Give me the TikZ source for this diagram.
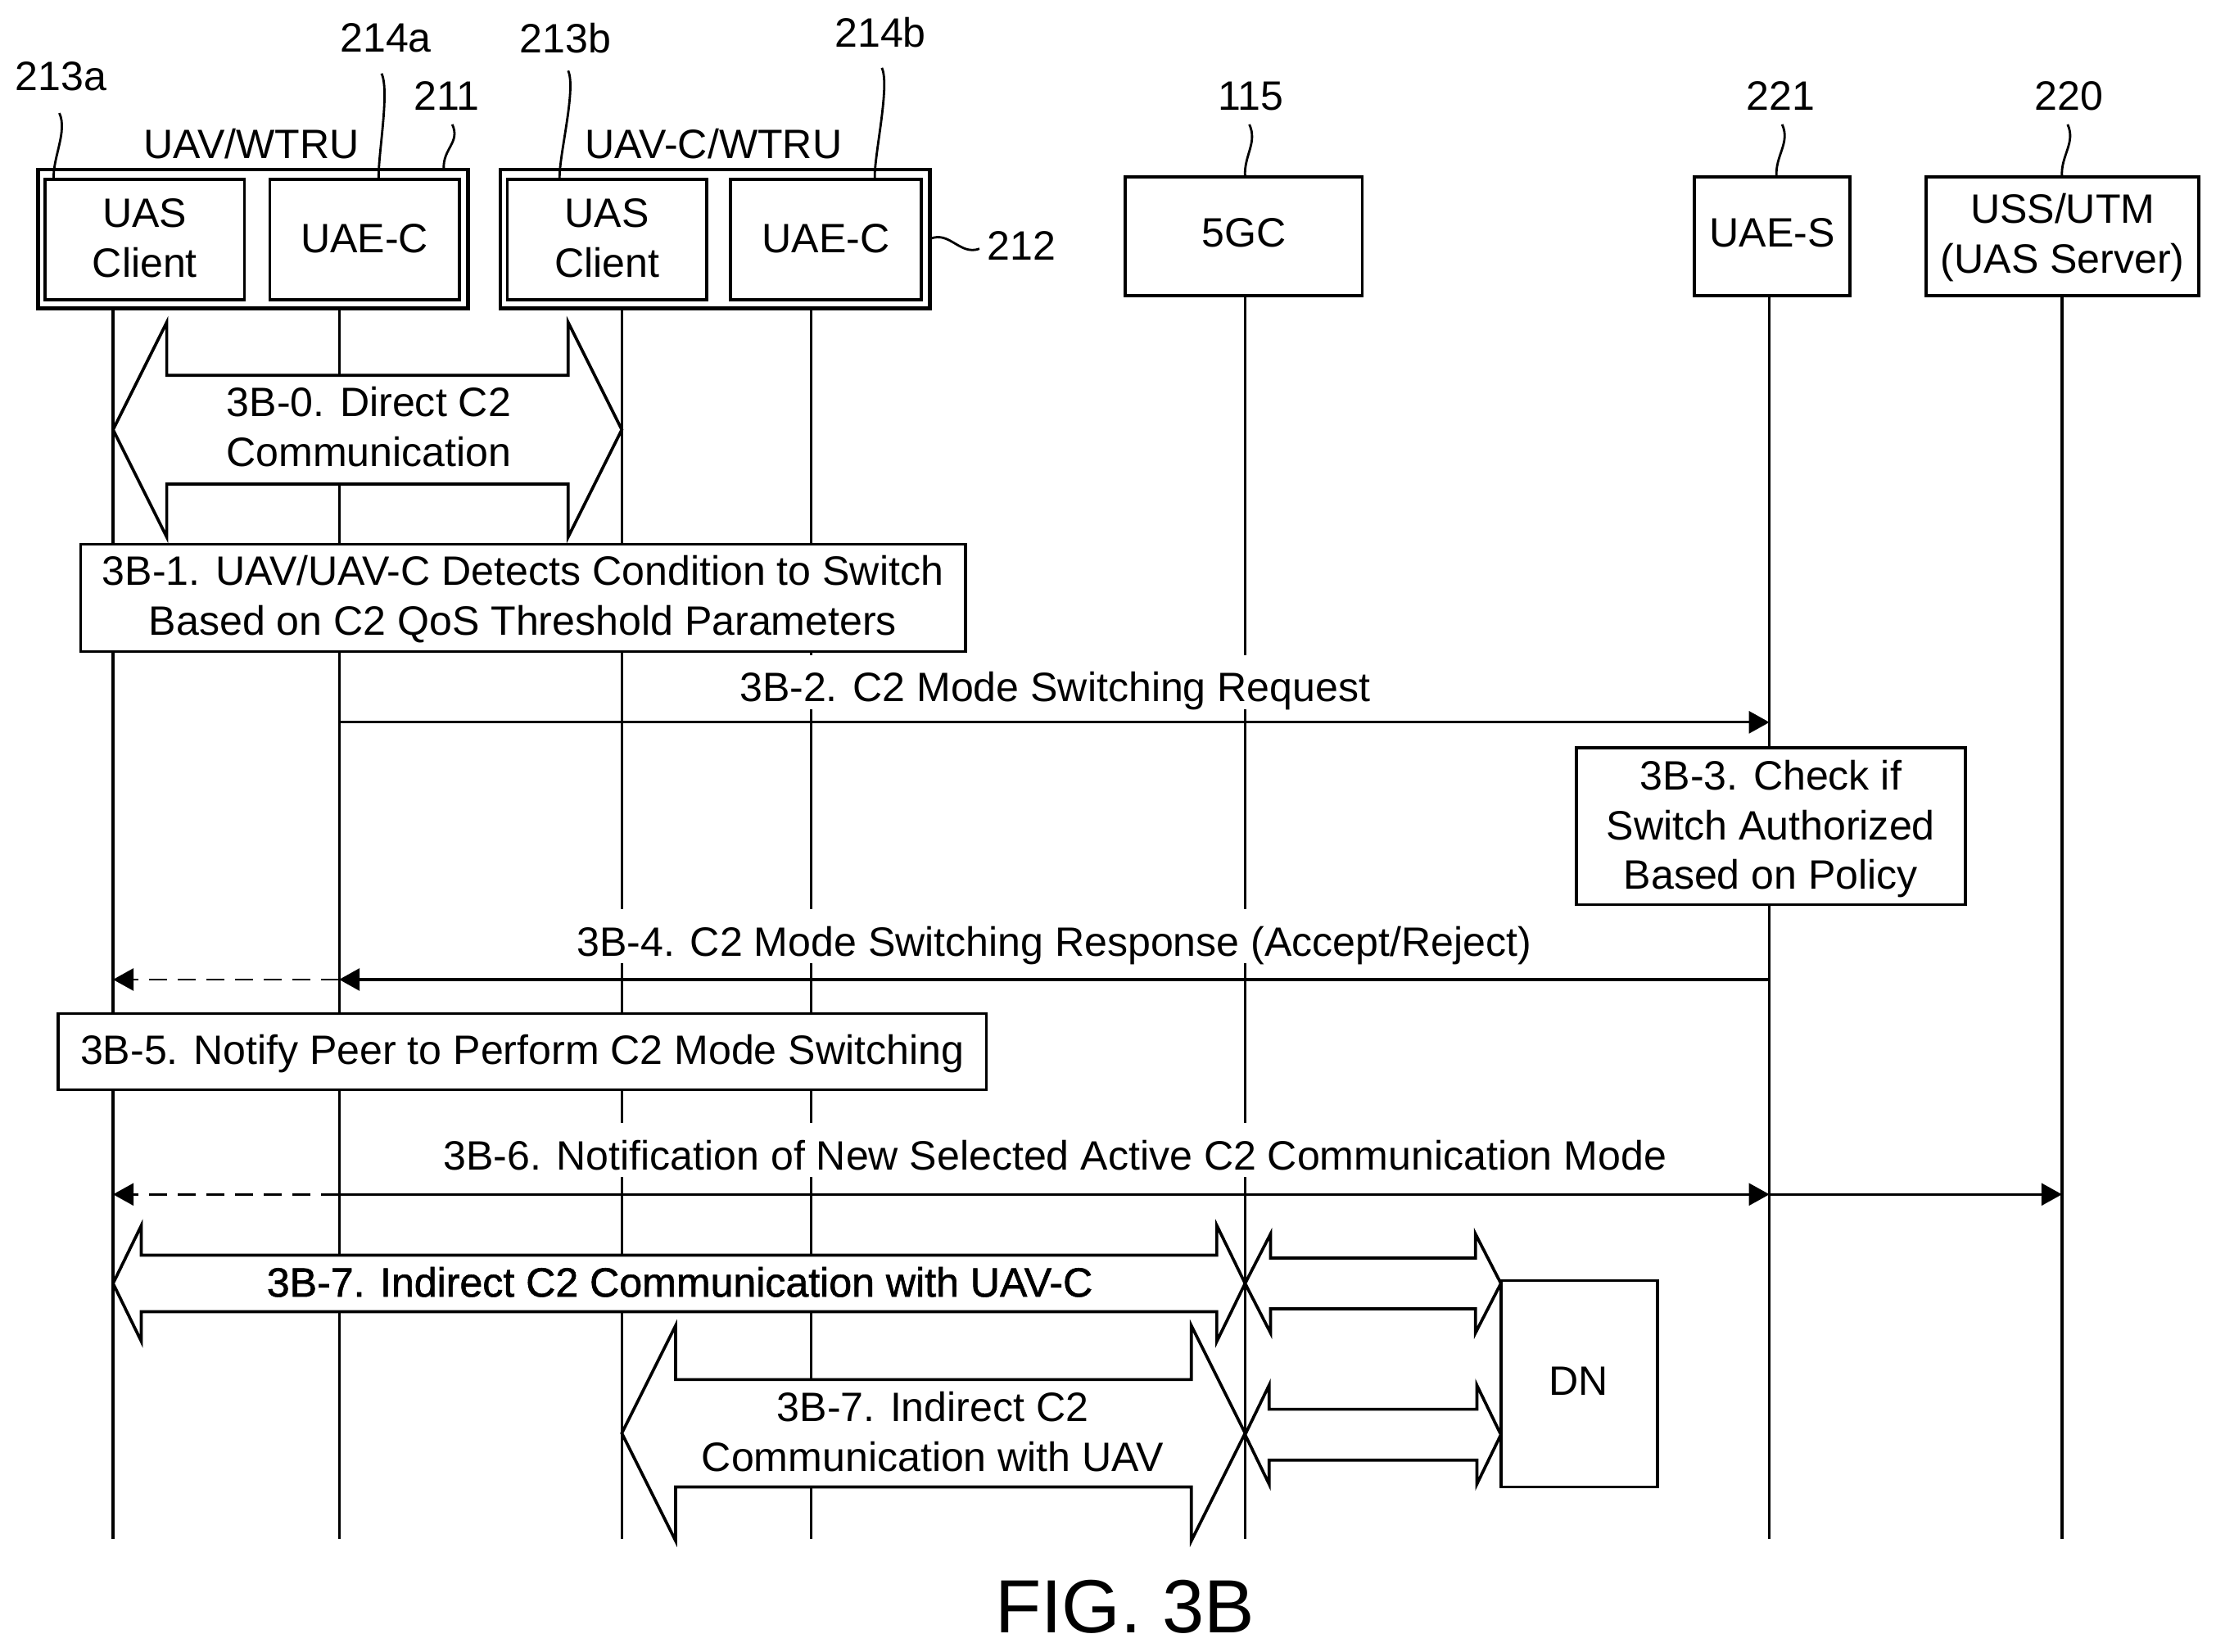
\documentclass[tikz,border=0pt]{standalone}
\usepackage{fontspec}
\setmainfont{Liberation Sans}
\newfontfamily\heavyfont[FakeBold=1.2]{Liberation Sans}
\usetikzlibrary{arrows.meta}
\def\u{0.017258cm}
\tikzset{
  size/.style 2 args={minimum width=#1*\u,minimum height=#2*\u},
  box/.style={draw,line width=1.05pt,fill=white,inner sep=0pt,outer sep=0pt,align=center},
  boxthick/.style={box,line width=1.3pt},
  raised/.style={text height=0.41cm,text depth=#1},
  txt/.style={inner sep=0pt,align=center},
  msgtxt/.style={fill=white,inner xsep=0pt,inner ysep=0.05cm,text height=0.52cm,text depth=0.04cm},
  life/.style={line width=0.95pt},
  lead/.style={line width=0.8pt},
  msg/.style={line width=0.95pt,-{Triangle[length=0.25cm,width=0.27cm]}},
  msgthin/.style={msg,line width=0.8pt},
  msgd/.style={msg,line width=0.8pt,dash pattern=on 0.22cm off 0.13cm},
  block/.style={draw,fill=white,line width=1.05pt,line join=miter}
}
% x1 x2 yc head half-head half-shaft
\newcommand{\blockarrow}[6]{
 \draw[block] (#1,#3)--({#1+#4},{#3-#5})--({#1+#4},{#3-#6})--({#2-#4},{#3-#6})--({#2-#4},{#3-#5})
  --(#2,#3)--({#2-#4},{#3+#5})--({#2-#4},{#3+#6})--({#1+#4},{#3+#6})--({#1+#4},{#3+#5})--cycle;
}
\newcommand{\leader}[2]{\draw[lead] (#1) .. controls +(6,13) and +(-1,-15) .. (#2);}
\begin{document}
\begin{tikzpicture}[x=\u,y=-\u,font=\fontsize{14.25}{17.2}\selectfont]
\path[use as bounding box,fill=white] (0,0) rectangle (1568,1168.7);
% lifelines
\coordinate (la) at (80,218);
\coordinate (lb) at (240,218);
\coordinate (lc) at (440,218);
\coordinate (ld) at (574,218);
\coordinate (le) at (881,209);
\coordinate (lf) at (1252,209);
\coordinate (lg) at (1459,209);
\coordinate (bottom) at (0,1089);
\foreach \n in {la,lb,lc,ld,le,lf,lg}
 \draw[life] (\n) -- (\n |- bottom);
% header boxes
\node[boxthick,size={304}{98}] (uav) at (179,169) {};
\node[boxthick,size={304}{98}] (uavc) at (506,169) {};
\node[box,size={141}{85}] (clienta) at (102.5,169.5) {};
\node[txt] (clientat) at (102.5,168.5) {UAS\\Client};
\node[box,size={134}{85},raised=0.1cm] (uaea) at (258,169.5) {UAE-C};
\node[box,size={141}{85}] (clientb) at (429.5,169.5) {};
\node[txt] (clientbt) at (429.5,168.5) {UAS\\Client};
\node[box,size={135}{85},raised=0.1cm] (uaeb) at (584.5,169.5) {UAE-C};
\node[box,size={168}{84},raised=0.14cm] (fivegc) at (880,167) {5GC};
\node[box,size={110}{84},raised=0.14cm] (uaes) at (1254,167) {UAE-S};
\node[box,size={193}{84}] (uss) at (1459.5,167) {};
\node[txt] (usst) at (1459.5,168) {USS/UTM\\(UAS Server)};
\node[txt] (titlea) at (178,102) {UAV/WTRU};
\node[txt] (titleb) at (505,102) {UAV-C/WTRU};
% reference numerals
\node[txt] (n213a) at (43,54) {213a};
\node[txt] (n214a) at (273,27) {214a};
\node[txt] (n211) at (316,68) {211};
\node[txt] (n213b) at (400,27) {213b};
\node[txt] (n214b) at (623,23) {214b};
\node[txt] (n212) at (723,174) {212};
\node[txt] (n115) at (885,68) {115};
\node[txt] (n221) at (1260,68) {221};
\node[txt] (n220) at (1464,68) {220};
\coordinate (s213a) at (42,80); \coordinate (e213a) at (38,127);
\coordinate (s214a) at (270,52); \coordinate (e214a) at (268,127);
\coordinate (s211) at (320,88); \coordinate (e211) at (314,120);
\coordinate (s213b) at (402,50); \coordinate (e213b) at (396,127);
\coordinate (s214b) at (624,48); \coordinate (e214b) at (619,127);
\coordinate (s115) at (884,88); \coordinate (e115) at (881,125);
\coordinate (s221) at (1261,88); \coordinate (e221) at (1257,125);
\coordinate (s220) at (1463,88); \coordinate (e220) at (1459,125);
\coordinate (e212) at (693,176);
\leader{s213a}{e213a}
\leader{s214a}{e214a}
\leader{s211}{e211}
\leader{s213b}{e213b}
\leader{s214b}{e214b}
\leader{s115}{e115}
\leader{s221}{e221}
\leader{s220}{e220}
\draw[lead] (uavc.east) .. controls +(14,-6) and +(-14,5) .. (e212);
% step 3B-0
\blockarrow{80}{440}{304}{38}{76}{38.5}
\node[txt] (s0) at (261,302) {3B-0. Direct C2\\Communication};
% step 3B-1
\node[box,size={626}{76}] (s1) at (370,423) {};
\node[txt] (s1t) at (370,424) {3B-1. UAV/UAV-C Detects Condition to Switch\\Based on C2 QoS Threshold Parameters};
% step 3B-2
\coordinate (rowb) at (0,511);
\draw[msgthin] (lb |- rowb) -- (lf |- rowb);
\node[msgtxt] (s2) at (746.5,482.5) {3B-2. C2 Mode Switching Request};
% step 3B-3
\node[box,size={275}{111}] (s3) at (1253,584.5) {};
\node[txt] (s3t) at (1253,586.5) {3B-3. Check if\\Switch Authorized\\Based on Policy};
% step 3B-4
\coordinate (rowd) at (0,693);
\draw[msg] (lf |- rowd) -- (lb |- rowd);
\draw[msgd] (lb |- rowd) -- (la |- rowd);
\node[msgtxt] (s4) at (746,662.6) {3B-4. C2 Mode Switching Response (Accept/Reject)};
% step 3B-5
\node[box,size={657}{54},raised=0.1cm] (s5) at (369.5,744) {3B-5. Notify Peer to Perform C2 Mode Switching};
% step 3B-6
\coordinate (rowf) at (0,845);
\draw[msgd] (lb |- rowf) -- (la |- rowf);
\draw[msgthin] (lb |- rowf) -- (lf |- rowf);
\draw[msgthin] (lf |- rowf) -- (lg |- rowf);
\node[msgtxt] (s6) at (746.5,813.6) {3B-6. Notification of New Selected Active C2 Communication Mode};
% step 3B-7
\blockarrow{80}{881}{908}{20}{41}{20}
\node[txt,font=\fontsize{14.25}{17.2}\heavyfont] (s7a) at (481,907) {3B-7. Indirect C2 Communication with UAV-C};
\blockarrow{881}{1062}{908}{18}{35}{18}
\blockarrow{440}{881}{1014}{38}{76}{38}
\node[txt] (s7b) at (660,1013) {3B-7. Indirect C2\\Communication with UAV};
\blockarrow{881}{1062}{1015}{17}{35}{18}
\node[box,size={111}{146}] (dn) at (1117.5,979) {};
\node[txt] (dnt) at (1117,977) {DN};
\node[txt,font=\fontsize{26.2}{30}\selectfont] (fig) at (796,1137) {FIG. 3B};
\end{tikzpicture}
\end{document}
